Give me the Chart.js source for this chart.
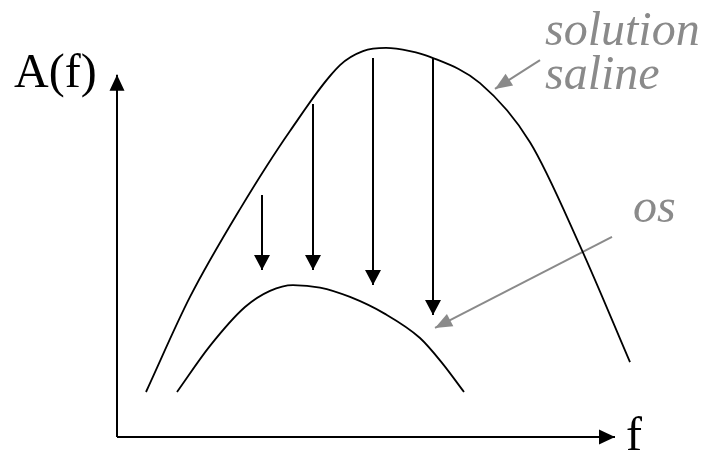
<!DOCTYPE html>
<html>
<head>
<meta charset="utf-8">
<script src="https://cdn.jsdelivr.net/npm/chart.js@4"></script>
<style>
  html, body { margin: 0; padding: 0; background: #fff; }
  #wrap { width: 706px; height: 452px; position: relative; }
</style>
</head>
<body>
<div id="wrap"><canvas id="chart"></canvas></div>
<script>
// curves (f, A) in arbitrary units
const salineF = [0.58, 1.46, 2.46, 3.46, 4.46, 4.92, 5.38, 5.86, 6.26, 7.26, 8.26, 9.26, 10.26];
const salineA = [1.25, 3.89, 6.33, 8.5, 10.33, 10.72, 10.81, 10.72, 10.56, 9.83, 8.19, 5.31, 2.08];
const osF = [1.2, 1.86, 2.56, 3.06, 3.52, 4.06, 4.66, 5.36, 6.06, 6.5, 6.94];
const osA = [1.25, 2.53, 3.61, 4.06, 4.22, 4.15, 3.89, 3.42, 2.75, 2.06, 1.25];

// attenuation arrows
const dropF = [2.9, 3.92, 5.12, 6.32];
const dropFrom = [6.72, 9.25, 10.53, 10.53];
const dropTo = [4.64, 4.64, 4.22, 3.39];

// axes extent
const fMax = 9.96;
const aMax = 10.06;

// gray pointers: [fromF, fromA, toF, toA]
const salinePointer = [8.46, 10.47, 7.56, 9.67];
const osPointer = [9.9, 5.56, 6.36, 3.03];

const black = '#000';
const gray = '#8a8a8a';

const toPts = (xs, ys) => xs.map((x, i) => ({ x: x, y: ys[i] }));

const line = (pts, color, extra) => Object.assign({
  data: pts,
  borderColor: color,
  backgroundColor: color,
  borderWidth: 2,
  pointRadius: 0,
  showLine: true,
  fill: false,
  tension: 0
}, extra || {});

const curve = { cubicInterpolationMode: 'monotone', borderWidth: 1.8 };

const datasets = [
  line(toPts(salineF, salineA), black, curve),
  line(toPts(osF, osA), black, curve),
  line([{ x: 0, y: 0 }, { x: 0, y: aMax }], black, { arrow: [16, 7.5] }),
  line([{ x: 0, y: 0 }, { x: fMax, y: 0 }], black, { arrow: [16, 7.5] }),
  line([{ x: salinePointer[0], y: salinePointer[1] }, { x: salinePointer[2], y: salinePointer[3] }], gray, { arrow: [17, 7] }),
  line([{ x: osPointer[0], y: osPointer[1] }, { x: osPointer[2], y: osPointer[3] }], gray, { arrow: [17, 7] })
];
dropF.forEach((f, i) => {
  datasets.push(line([{ x: f, y: dropFrom[i] }, { x: f, y: dropTo[i] }], black, { arrow: [15, 8] }));
});

const labels = [
  { text: 'A(f)', x: -2.06, y: 9.72, font: '48px "Liberation Serif", serif', color: black },
  { text: 'f', x: 10.18, y: -0.36, font: '48px "Liberation Serif", serif', color: black },
  { text: 'solution', x: 8.56, y: 10.89, font: 'italic 48px "Liberation Serif", serif', color: gray },
  { text: 'saline', x: 8.56, y: 9.67, font: 'italic 48px "Liberation Serif", serif', color: gray },
  { text: 'os', x: 10.32, y: 5.97, font: 'italic 48px "Liberation Serif", serif', color: gray }
];

const arrowHeads = {
  id: 'arrowHeads',
  afterDatasetsDraw(chart) {
    const ctx = chart.ctx;
    chart.data.datasets.forEach((ds, i) => {
      if (!ds.arrow) return;
      const pts = chart.getDatasetMeta(i).data;
      const a = pts[pts.length - 2], b = pts[pts.length - 1];
      const ang = Math.atan2(b.y - a.y, b.x - a.x);
      const [len, half] = ds.arrow;
      ctx.save();
      ctx.translate(b.x, b.y);
      ctx.rotate(ang);
      ctx.fillStyle = ds.borderColor;
      ctx.beginPath();
      ctx.moveTo(0, 0);
      ctx.lineTo(-len, -half);
      ctx.lineTo(-len, half);
      ctx.closePath();
      ctx.fill();
      ctx.restore();
    });
  },
  afterDraw(chart) {
    const ctx = chart.ctx;
    const xs = chart.scales.x, ys = chart.scales.y;
    ctx.save();
    ctx.textBaseline = 'alphabetic';
    ctx.textAlign = 'left';
    labels.forEach(l => {
      ctx.font = l.font;
      ctx.fillStyle = l.color;
      ctx.fillText(l.text, xs.getPixelForValue(l.x), ys.getPixelForValue(l.y));
    });
    ctx.restore();
  }
};

new Chart(document.getElementById('chart'), {
  type: 'scatter',
  data: { datasets: datasets },
  options: {
    responsive: true,
    maintainAspectRatio: false,
    animation: false,
    layout: { padding: 0 },
    plugins: { legend: { display: false }, tooltip: { enabled: false } },
    scales: {
      x: { type: 'linear', display: false, min: -2.34, max: 11.78 },
      y: { type: 'linear', display: false, min: -0.4167, max: 12.139 }
    }
  },
  plugins: [arrowHeads]
});
</script>
</body>
</html>
